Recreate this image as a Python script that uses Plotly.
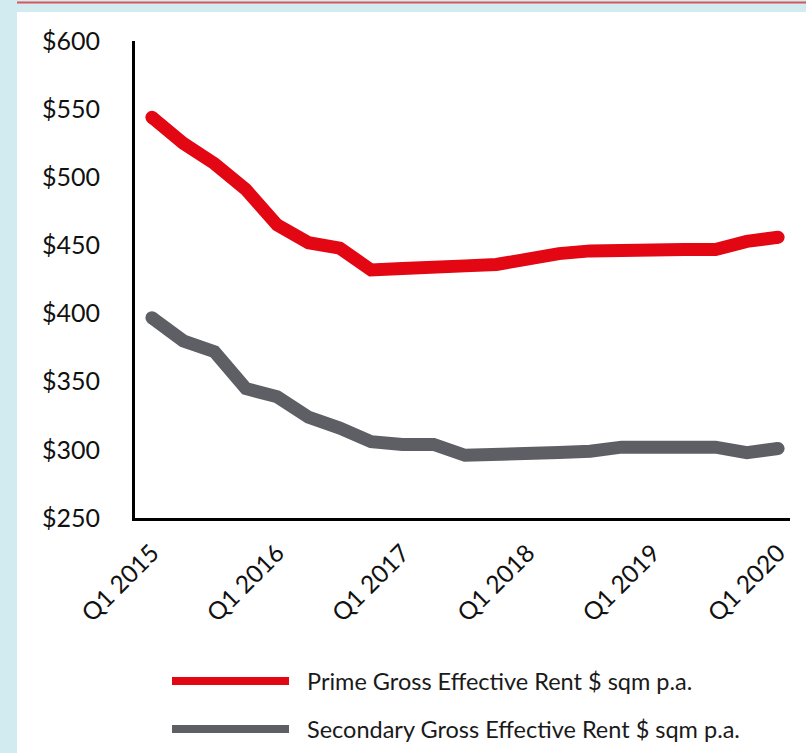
import plotly.graph_objects as go

# Quarterly series, Q1 2015 .. Q1 2020
quarters = [f"Q{q} {y}" for y in range(2015, 2021) for q in (1, 2, 3, 4)][:21]
prime_rent = [544, 525, 510, 491, 465, 452, 448, 432, 433, 435, 435, 436,
              441, 444, 446, 447, 447, 447, 447, 453, 456]
secondary_rent = [397, 380, 372, 345, 339, 324, 316, 306, 304, 304, 296, 296,
                  297, 298, 299, 302, 302, 302, 302, 298, 301]

tick_labels = ["Q1 2015", "Q1 2016", "Q1 2017", "Q1 2018", "Q1 2019", "Q1 2020"]
y_ticks = [250, 300, 350, 400, 450, 500, 550, 600]

series = [
    ("Prime Gross Effective Rent $ sqm p.a.", prime_rent, "#E30613"),
    ("Secondary Gross Effective Rent $ sqm p.a.", secondary_rent, "#5E5F64"),
]

W, H = 806, 753
L, R, T, B = 135, 16, 41, 235
pw, ph = W - L - R, H - T - B


def px_x(px):
    return (px - L) / pw


def px_y(py):
    return (H - B - py) / ph


FONT = "Lato"
idx = list(range(len(quarters)))

fig = go.Figure()
for name, vals, color in series:
    fig.add_trace(go.Scatter(
        x=idx, y=vals, mode="lines", name=name,
        line=dict(color=color, width=13),
        showlegend=False, hoverinfo="skip",
    ))
    # rounded ends of the thick line
    fig.add_trace(go.Scatter(
        x=[idx[0], idx[-1]], y=[vals[0], vals[-1]], mode="markers",
        marker=dict(color=color, size=13, line=dict(width=0)),
        showlegend=False, hoverinfo="skip",
    ))

shapes = [
    # white card on the tinted page
    dict(type="rect", xref="paper", yref="paper", layer="below",
         x0=px_x(17), x1=px_x(W + 5), y0=px_y(H + 5), y1=px_y(12),
         fillcolor="white", line=dict(width=0)),
    # thin rule along the top edge
    dict(type="line", xref="paper", yref="paper", layer="below",
         x0=px_x(17), x1=px_x(W + 5), y0=px_y(2.5), y1=px_y(2.5),
         line=dict(color="#D9555C", width=2)),
]
annotations = []
legend_rows = [681, 729]
for (name, vals, color), row in zip(series, legend_rows):
    shapes.append(dict(type="line", xref="paper", yref="paper",
                       x0=px_x(172), x1=px_x(289), y0=px_y(row), y1=px_y(row),
                       line=dict(color=color, width=8)))
    annotations.append(dict(xref="paper", yref="paper", x=px_x(305), y=px_y(row),
                            text=name, showarrow=False, xanchor="left",
                            yanchor="middle",
                            font=dict(family=FONT, size=23.5, color="#1a1a1a")))

fig.update_layout(
    width=W, height=H,
    margin=dict(l=L, r=R, t=T, b=B, pad=0),
    paper_bgcolor="#D2EBF0",
    plot_bgcolor="white",
    shapes=shapes,
    annotations=annotations,
    xaxis=dict(
        range=[-0.54, 20.38],
        tickvals=[0, 4, 8, 12, 16, 20], ticktext=tick_labels,
        tickangle=-45, ticks="", showgrid=False, zeroline=False,
        showline=True, linecolor="black", linewidth=3,
        tickfont=dict(family=FONT, size=24.5, color="#111"),
        ticklabelstandoff=8,
    ),
    yaxis=dict(
        range=[250, 600], tickvals=y_ticks,
        ticktext=[f"${v}" for v in y_ticks],
        ticks="", showgrid=False, zeroline=False,
        showline=True, linecolor="black", linewidth=3,
        tickfont=dict(family=FONT, size=25, color="#111"),
        ticklabelstandoff=27,
    ),
)

fig.write_html("out.html")
